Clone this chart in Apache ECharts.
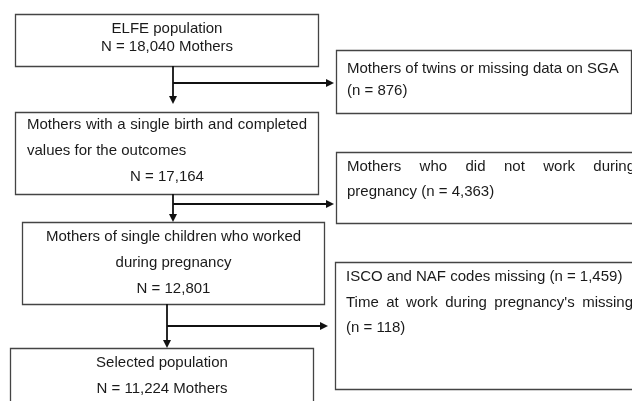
<!DOCTYPE html>
<html>
<head>
<meta charset="utf-8">
<script src="https://cdn.jsdelivr.net/npm/echarts@6/dist/echarts.min.js"></script>
<style>
  html, body { margin: 0; padding: 0; background: #fff; }
  #flow { width: 632px; height: 401px; }
</style>
</head>
<body>
<div id="flow"></div>
<script>
// texts of the flow chart
const mainSteps = [
  ["ELFE population", "N = 18,040 Mothers"],
  ["Mothers with a single birth and completed", "values for the outcomes", "N = 17,164"],
  ["Mothers of single children who worked", "during pregnancy", "N = 12,801"],
  ["Selected population", "N = 11,224 Mothers"]
];
const exclusions = [
  ["Mothers of twins or missing data on SGA", "(n = 876)"],
  ["Mothers who did not work during", "pregnancy (n = 4,363)"],
  ["ISCO and NAF codes missing (n = 1,459)", "Time at work during pregnancy's missing", "(n = 118)"]
];

// layout (pixels)
const mainBoxes = [
  { x: 15, y: 14, w: 303, h: 52, lines: [29, 47], align: ["center", "center"] },
  { x: 15, y: 112, w: 303, h: 82, lines: [125, 151, 177], align: ["justify", "left", "center"] },
  { x: 22, y: 222, w: 302, h: 82, lines: [237, 263, 289], align: ["center", "center", "center"] },
  { x: 10, y: 348, w: 303, h: 70, lines: [363, 389], align: ["center", "center"] }
];
const sideBoxes = [
  { x: 336, y: 50, w: 295, h: 63, lines: [69, 91], align: ["left", "left"], right: 634 },
  { x: 336, y: 152, w: 320, h: 71, lines: [167, 192], align: ["justify", "left"], right: 635 },
  { x: 335, y: 262, w: 320, h: 127, lines: [277, 303, 328], align: ["left", "justify", "left"], right: 633 }
];
const arrows = [
  { x: 173, top: 66, bottom: 104, y: 83, tip: 334 },
  { x: 173, top: 194, bottom: 222, y: 204, tip: 334 },
  { x: 167, top: 304, bottom: 348, y: 326, tip: 328 }
];

const FONT = '15px "Liberation Sans", Arial, sans-serif';
const TEXT_COLOR = "#1a1a1a";
const measure = document.createElement("canvas").getContext("2d");
measure.font = FONT;

function textEl(str, x, y, align) {
  return {
    type: "text",
    style: { text: str, x: x, y: y, font: FONT, fill: TEXT_COLOR, textAlign: align, textVerticalAlign: "middle" }
  };
}

function lineEls(str, x0, x1, y, align) {
  if (align === "center") return [textEl(str, (x0 + x1) / 2, y, "center")];
  if (align === "left") return [textEl(str, x0, y, "left")];
  // justified: spread words over the line
  const words = str.split(" ");
  const widths = words.map(w => measure.measureText(w).width);
  const total = widths.reduce((a, b) => a + b, 0);
  const gap = (x1 - x0 - total) / (words.length - 1);
  const out = [];
  let cx = x0;
  words.forEach((w, i) => {
    out.push(textEl(w, cx, y, "left"));
    cx += widths[i] + gap;
  });
  return out;
}

function boxEl(b) {
  return {
    type: "rect",
    shape: { x: b.x + 0.5, y: b.y + 0.5, width: b.w, height: b.h },
    style: { fill: "#fff", stroke: "#444", lineWidth: 1.3 }
  };
}

const elements = [];
mainBoxes.forEach((b, i) => {
  elements.push(boxEl(b));
  mainSteps[i].forEach((t, j) => {
    const x0 = b.x + 12, x1 = b.x + b.w - 11;
    elements.push(...lineEls(t, x0, x1, b.lines[j], b.align[j]));
  });
});
sideBoxes.forEach((b, i) => {
  elements.push(boxEl(b));
  exclusions[i].forEach((t, j) => {
    elements.push(...lineEls(t, b.x + 11, b.right, b.lines[j], b.align[j]));
  });
});
arrows.forEach(a => {
  const ls = { stroke: "#111", lineWidth: 1.8 };
  elements.push({ type: "line", shape: { x1: a.x, y1: a.top, x2: a.x, y2: a.bottom - 6 }, style: ls });
  elements.push({ type: "polygon", shape: { points: [[a.x - 4, a.bottom - 8], [a.x + 4, a.bottom - 8], [a.x, a.bottom]] }, style: { fill: "#111" } });
  elements.push({ type: "line", shape: { x1: a.x, y1: a.y, x2: a.tip - 6, y2: a.y }, style: ls });
  elements.push({ type: "polygon", shape: { points: [[a.tip - 8, a.y - 4], [a.tip - 8, a.y + 4], [a.tip, a.y]] }, style: { fill: "#111" } });
});

const chart = echarts.init(document.getElementById("flow"), null, { renderer: "canvas" });
chart.setOption({
  backgroundColor: "#fff",
  animation: false,
  graphic: { elements: elements }
});
</script>
</body>
</html>
